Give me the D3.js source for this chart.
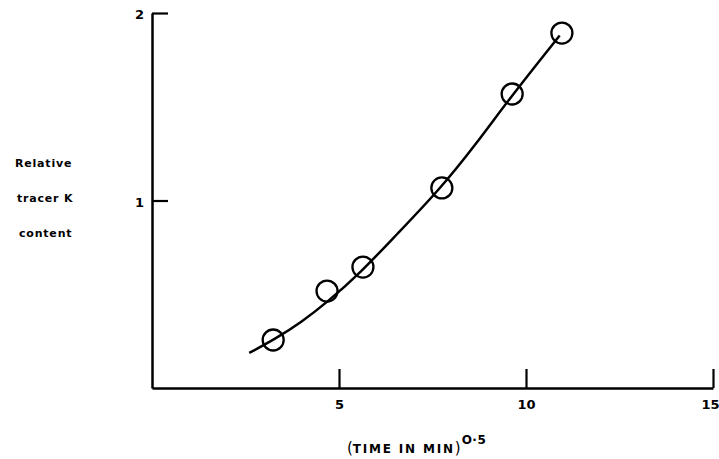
<!DOCTYPE html>
<html>
<head>
<meta charset="utf-8">
<script src="https://cdn.jsdelivr.net/npm/d3@7"></script>
<style>
  body { margin: 0; background: #fff; }
  text { font-family: "DejaVu Sans", sans-serif; font-weight: bold; fill: #000; }
</style>
</head>
<body>
<div id="chart"></div>
<script>
// measured points (sqrt time vs relative tracer K content)
var pointX = [3.24, 4.68, 5.64, 7.75, 9.63, 10.96];
var pointY = [0.256, 0.517, 0.645, 1.067, 1.568, 1.893];

// hand-drawn fitted curve
var curveX = [2.6, 3.3, 4.0, 4.7, 5.6, 6.5, 7.7, 8.7, 9.6, 10.9];
var curveY = [0.187, 0.262, 0.352, 0.46, 0.62, 0.81, 1.06, 1.31, 1.555, 1.88];

var xTicks = [5, 10, 15];
var yTicks = [1, 2];
var yLabelLines = ["Relative", "tracer K", "content"];

var width = 719;
var height = 459;

var x = d3.scaleLinear().domain([0, 15]).range([152, 713]);
var y = d3.scaleLinear().domain([0, 2]).range([388, 13]);

var svg = d3.select('#chart')
    .append('svg')
    .attr('width', width)
    .attr('height', height);

var xAxis = svg.append('g')
    .attr('transform', 'translate(0,' + y(0) + ')')
    .call(d3.axisBottom(x).tickValues(xTicks).tickFormat(d3.format('d'))
      .tickSize(-19).tickSizeOuter(0).tickPadding(12));

var yAxis = svg.append('g')
    .attr('transform', 'translate(' + x(0) + ',0)')
    .call(d3.axisLeft(y).tickValues(yTicks).tickFormat(d3.format('d'))
      .tickSize(-16).tickSizeOuter(0).tickPadding(8));

[xAxis, yAxis].forEach(function (g) {
  g.select('.domain').attr('stroke', '#000').attr('stroke-width', 2.5);
  g.selectAll('.tick line').attr('stroke', '#000').attr('stroke-width', 2.2);
  g.selectAll('.tick text')
      .attr('font-family', '"DejaVu Sans", sans-serif')
      .attr('font-weight', 'bold')
      .attr('font-size', 13)
      .attr('fill', '#000');
});
yAxis.selectAll('.tick text').attr('dy', '0.45em');
// keep the last x label inside the frame
xAxis.selectAll('.tick text').filter(function (d) { return d === 15; }).attr('dx', -3);

var line = d3.line()
    .x(function (d) { return x(d[0]); })
    .y(function (d) { return y(d[1]); })
    .curve(d3.curveBasis);

svg.append('path')
    .datum(d3.zip(curveX, curveY))
    .attr('d', line)
    .attr('fill', 'none')
    .attr('stroke', '#000')
    .attr('stroke-width', 2.5);

svg.selectAll('.pt')
    .data(d3.zip(pointX, pointY))
    .enter().append('circle')
    .attr('class', 'pt')
    .attr('cx', function (d) { return x(d[0]); })
    .attr('cy', function (d) { return y(d[1]); })
    .attr('r', 10.5)
    .attr('fill', 'none')
    .attr('stroke', '#000')
    .attr('stroke-width', 2.3);

// y label, three stacked lines
svg.selectAll('.ylab')
    .data(yLabelLines)
    .enter().append('text')
    .attr('class', 'ylab')
    .attr('x', function (d, i) { return [15, 17, 19][i]; })
    .attr('y', function (d, i) { return 167 + i * 35; })
    .attr('font-size', 11)
    .attr('letter-spacing', 0.8)
    .text(function (d) { return d; });

// x label with superscript exponent
var xt = svg.append('text')
    .attr('x', 347)
    .attr('y', 453)
    .attr('font-size', 12);
xt.append('tspan').attr('font-size', 15).attr('font-weight', 'normal').text('(');
xt.append('tspan').attr('letter-spacing', 1.8).text('TIME IN MIN');
xt.append('tspan').attr('font-size', 15).attr('font-weight', 'normal').text(')');
xt.append('tspan').attr('dy', -9).attr('dx', 1).attr('letter-spacing', 0.5).text('O·5');
</script>
</body>
</html>
